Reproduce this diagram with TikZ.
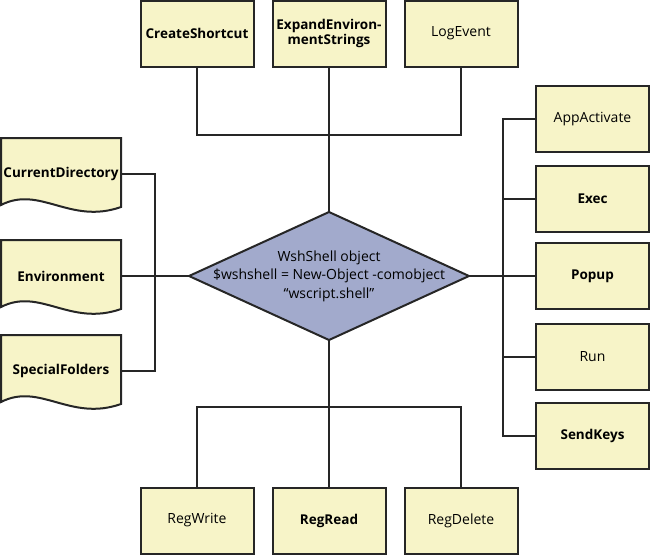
\documentclass[tikz,border=0pt]{standalone}
\usepackage{fontspec}
\setmainfont{Open Sans}
\usetikzlibrary{calc}
\definecolor{boxfill}{HTML}{F7F4C8}
\definecolor{diafill}{HTML}{A2AACC}
\definecolor{linec}{HTML}{262626}
\tikzset{
  conn/.style={line width=2pt, draw=linec},
  method/.style={draw=linec, line width=2pt, fill=boxfill, minimum width=113pt, minimum height=66pt, inner sep=1pt, align=center, font=\fontsize{14}{15.5}\selectfont},
  bmethod/.style={method, font=\fontsize{13.5}{15.5}\selectfont\bfseries},
  doclabel/.style={draw=none, minimum width=120pt, minimum height=10pt, inner sep=0pt, font=\fontsize{13.5}{15.5}\selectfont\bfseries},
  docfill/.style={draw=linec, line width=2pt, fill=boxfill},
  diafillst/.style={draw=linec, line width=2pt, fill=diafill, line join=miter},
  wshtext/.style={draw=none, minimum width=280pt, minimum height=128pt, inner sep=0pt, align=center, font=\fontsize{14}{18.5}\selectfont}
}
\newcommand\docpath[1]{\path[docfill] (1,#1) -- (121,#1) -- (121,{#1+69}) .. controls (70,{#1+87}) and (40,{#1+47}) .. (1,{#1+67}) -- cycle;}
\begin{document}
\begin{tikzpicture}[x=1pt,y=-1pt]
\useasboundingbox (0,0) rectangle (650,555);
% diamond
\path[diafillst] (189,276) -- (329,212) -- (469,276) -- (329,340) -- cycle;
\node[wshtext] (ws) at (329,276) {WshShell object\\\$wshshell = New-Object -comobject\\“wscript.shell”};
% top
\node[bmethod] (cs) at (197,33.5) {CreateShortcut};
\node[bmethod] (ee) at (329,33.5) {ExpandEnviron-\\mentStrings};
\node[method] (le) at (461,33.5) {LogEvent};
% bottom
\node[method] (rw) at (197,520.5) {RegWrite};
\node[bmethod] (rr) at (329,520.5) {RegRead};
\node[method] (rd) at (461,520.5) {RegDelete};
% right
\node[method] (aa) at (592.5,119) {AppActivate};
\node[bmethod] (ex) at (592.5,199) {Exec};
\node[bmethod] (pu) at (592.5,276) {Popup};
\node[method] (rn) at (592.5,357) {Run};
\node[bmethod] (sk) at (592.5,435.5) {SendKeys};
% left documents
\docpath{138}
\docpath{240}
\docpath{335}
\node[doclabel] (cd) at (61,174) {CurrentDirectory};
\node[doclabel] (en) at (61,276) {Environment};
\node[doclabel] (sf) at (61,371) {SpecialFolders};
% buses
\coordinate (tbus) at (329,135);
\coordinate (bbus) at (329,407);
\coordinate (rbus) at (503,276);
\coordinate (lbus) at (155,276);
% connectors
\draw[conn] (cs.south) |- (tbus) -| (le.south);
\draw[conn] (ee.south) -- (ws.north);
\draw[conn] (rw.north) |- (bbus) -| (rd.north);
\draw[conn] (rr.north) -- (ws.south);
\draw[conn] (aa.west) -| (rbus) |- (sk.west);
\draw[conn] (ex.west) -- (ex.west -| rbus);
\draw[conn] (rn.west) -- (rn.west -| rbus);
\draw[conn] (ws.east) -- (pu.west);
\draw[conn] (cd.east) -| (lbus) |- (sf.east);
\draw[conn] (en.east) -- (ws.west);
\end{tikzpicture}
\end{document}
